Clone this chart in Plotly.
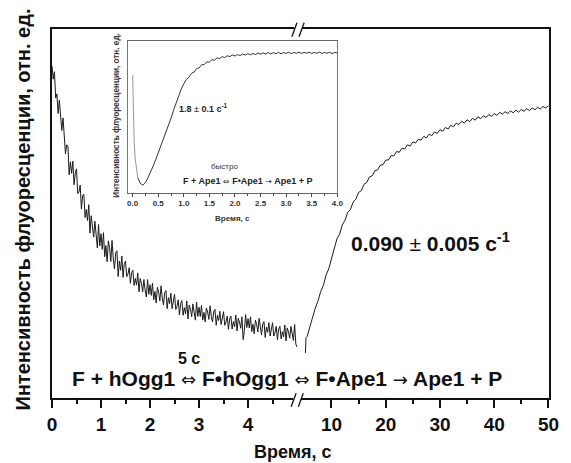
import plotly.graph_objects as go

# --- main trace, first 5 s (left part of the broken axis) ---
t_fast = [0.000, 0.025, 0.050, 0.075, 0.100, 0.125, 0.150, 0.175, 0.200, 0.225,
          0.250, 0.275, 0.300, 0.325, 0.350, 0.375, 0.400, 0.425, 0.450, 0.475,
          0.500, 0.525, 0.550, 0.575, 0.600, 0.625, 0.650, 0.675, 0.700, 0.725,
          0.750, 0.775, 0.800, 0.825, 0.850, 0.875, 0.900, 0.925, 0.950, 0.975,
          1.000, 1.025, 1.050, 1.075, 1.100, 1.125, 1.150, 1.175, 1.200, 1.225,
          1.250, 1.275, 1.300, 1.325, 1.350, 1.375, 1.400, 1.425, 1.450, 1.475,
          1.500, 1.525, 1.550, 1.575, 1.600, 1.625, 1.650, 1.675, 1.700, 1.725,
          1.750, 1.775, 1.800, 1.825, 1.850, 1.875, 1.900, 1.925, 1.950, 1.975,
          2.000, 2.025, 2.050, 2.075, 2.100, 2.125, 2.150, 2.175, 2.200, 2.225,
          2.250, 2.275, 2.300, 2.325, 2.350, 2.375, 2.400, 2.425, 2.450, 2.475,
          2.500, 2.525, 2.550, 2.575, 2.600, 2.625, 2.650, 2.675, 2.700, 2.725,
          2.750, 2.775, 2.800, 2.825, 2.850, 2.875, 2.900, 2.925, 2.950, 2.975,
          3.000, 3.025, 3.050, 3.075, 3.100, 3.125, 3.150, 3.175, 3.200, 3.225,
          3.250, 3.275, 3.300, 3.325, 3.350, 3.375, 3.400, 3.425, 3.450, 3.475,
          3.500, 3.525, 3.550, 3.575, 3.600, 3.625, 3.650, 3.675, 3.700, 3.725,
          3.750, 3.775, 3.800, 3.825, 3.850, 3.875, 3.900, 3.925, 3.950, 3.975,
          4.000, 4.025, 4.050, 4.075, 4.100, 4.125, 4.150, 4.175, 4.200, 4.225,
          4.250, 4.275, 4.300, 4.325, 4.350, 4.375, 4.400, 4.425, 4.450, 4.475,
          4.500, 4.525, 4.550, 4.575, 4.600, 4.625, 4.650, 4.675, 4.700, 4.725,
          4.750, 4.775, 4.800, 4.825, 4.850, 4.875, 4.900, 4.925, 4.950, 4.975,
          5.000]
fl_fast = [90.0, 86.4, 88.4, 81.3, 82.4, 77.1, 80.7, 77.4, 72.5, 75.9,
           70.1, 66.2, 68.6, 68.3, 60.5, 64.0, 60.9, 64.2, 57.8, 60.9,
           62.1, 55.4, 55.8, 57.7, 51.2, 54.9, 55.2, 48.9, 51.1, 48.1,
           52.4, 44.7, 49.4, 47.1, 43.6, 47.9, 43.3, 40.7, 47.0, 41.2,
           44.5, 40.3, 44.8, 38.3, 41.3, 36.9, 42.6, 40.7, 37.0, 42.7,
           37.7, 35.0, 39.4, 39.9, 32.9, 37.1, 34.6, 38.5, 32.7, 36.4,
           37.1, 32.9, 33.6, 35.3, 31.1, 34.0, 34.6, 30.5, 32.4, 30.6,
           33.9, 28.8, 32.4, 31.1, 28.8, 32.1, 29.2, 27.4, 32.1, 28.1,
           30.7, 27.8, 31.1, 26.6, 28.9, 25.8, 30.0, 28.7, 26.3, 30.4,
           27.1, 25.2, 28.6, 29.1, 24.2, 27.2, 25.6, 28.4, 24.2, 26.9,
           28.1, 24.0, 24.8, 26.6, 22.5, 25.6, 26.4, 22.4, 24.5, 22.8,
           26.3, 21.4, 25.2, 24.1, 22.0, 25.5, 22.7, 21.1, 26.0, 22.1,
           24.6, 22.1, 25.1, 21.1, 23.2, 20.6, 24.4, 23.3, 21.3, 25.0,
           22.1, 20.6, 23.5, 24.0, 19.7, 22.4, 21.0, 23.5, 19.9, 22.3,
           23.4, 19.7, 20.6, 22.2, 18.6, 21.4, 22.2, 18.7, 20.7, 19.3,
           22.5, 18.2, 21.6, 20.6, 18.9, 22.0, 15.8, 18.3, 22.6, 19.1,
           21.5, 19.0, 22.0, 18.0, 20.0, 17.4, 21.1, 20.0, 17.9, 21.6,
           18.6, 17.1, 20.1, 20.7, 16.4, 19.2, 17.8, 20.4, 16.8, 19.3,
           20.4, 16.8, 17.7, 19.4, 15.8, 18.7, 19.4, 16.0, 18.0, 16.6,
           19.8, 15.5, 19.0, 17.9, 16.2, 19.4, 16.9, 15.6, 19.9, 14.6,
           13.8]

# --- main trace after the break (5-50 s) ---
t_slow = [5.2, 5.3, 5.5, 6.0, 6.5, 7.0, 7.5, 8.0, 8.5, 9.0, 9.5,
          10.0, 10.5, 11.0, 11.5, 12.0, 12.5, 13.0, 13.5, 14.0, 14.5,
          15.0, 15.5, 16.0, 16.5, 17.0, 17.5, 18.0, 18.5, 19.0, 19.5,
          20.0, 20.5, 21.0, 21.5, 22.0, 22.5, 23.0, 23.5, 24.0, 24.5,
          25.0, 25.5, 26.0, 26.5, 27.0, 27.5, 28.0, 28.5, 29.0, 29.5,
          30.0, 30.5, 31.0, 31.5, 32.0, 32.5, 33.0, 33.5, 34.0, 34.5,
          35.0, 35.5, 36.0, 36.5, 37.0, 37.5, 38.0, 38.5, 39.0, 39.5,
          40.0, 40.5, 41.0, 41.5, 42.0, 42.5, 43.0, 43.5, 44.0, 44.5,
          45.0, 45.5, 46.0, 46.5, 47.0, 47.5, 48.0, 48.5, 49.0, 49.5, 50.0]
fl_slow = [12.2, 16.3, 16.6, 19.3, 21.4, 24.3, 26.2, 28.8, 30.5, 33.3, 35.0,
           37.9, 40.0, 43.1, 44.4, 46.9, 48.2, 50.3, 51.1, 53.1, 53.9,
           55.7, 56.2, 57.9, 58.4, 59.9, 60.2, 61.6, 61.8, 63.1, 63.2,
           64.5, 64.5, 65.7, 65.6, 66.8, 66.6, 67.7, 67.5, 68.6, 68.3,
           69.4, 69.1, 70.1, 69.9, 70.9, 70.5, 71.5, 71.1, 72.1, 71.7,
           72.7, 72.3, 73.3, 72.9, 73.9, 73.5, 74.5, 74.1, 75.0, 74.5,
           75.4, 74.9, 75.8, 75.3, 76.2, 75.7, 76.5, 76.0, 76.8, 76.3,
           77.1, 76.6, 77.4, 76.9, 77.6, 77.1, 77.8, 77.3, 78.0, 77.5,
           78.2, 77.7, 78.4, 77.9, 78.6, 78.1, 78.8, 78.3, 79.0, 78.6, 79.2]

# --- inset: F + Ape1 ---
t_ins_mix = [0.00, 0.01, 0.02, 0.03, 0.05, 0.08, 0.10]
fl_ins_mix = [77.6, 62.0, 45.0, 33.0, 22.5, 14.0, 10.0]
t_ins = [0.10, 0.15, 0.20, 0.25, 0.30, 0.35, 0.40, 0.45, 0.50, 0.55,
         0.60, 0.65, 0.70, 0.75, 0.80, 0.85, 0.90, 0.95, 1.00, 1.05,
         1.10, 1.15, 1.20, 1.25, 1.30, 1.35, 1.40, 1.45, 1.50, 1.55,
         1.60, 1.65, 1.70, 1.75, 1.80, 1.85, 1.90, 1.95, 2.00, 2.05,
         2.10, 2.15, 2.20, 2.25, 2.30, 2.35, 2.40, 2.45, 2.50, 2.55,
         2.60, 2.65, 2.70, 2.75, 2.80, 2.85, 2.90, 2.95, 3.00, 3.05,
         3.10, 3.15, 3.20, 3.25, 3.30, 3.35, 3.40, 3.45, 3.50, 3.55,
         3.60, 3.65, 3.70, 3.75, 3.80, 3.85, 3.90, 3.95, 4.00]
fl_ins = [10.0, 6.2, 5.0, 6.8, 10.0, 13.5, 17.6, 21.8, 26.3, 30.2,
          34.4, 39.0, 44.0, 49.2, 54.5, 59.5, 64.3, 68.5, 71.9, 74.9,
          76.2, 78.8, 79.6, 81.9, 82.4, 84.5, 84.6, 86.4, 86.2, 87.8,
          87.5, 89.0, 88.5, 89.8, 89.2, 90.4, 89.8, 90.9, 90.2, 91.2,
          90.5, 91.5, 90.8, 91.8, 91.0, 91.9, 91.2, 92.2, 91.4, 92.3,
          91.5, 92.5, 91.6, 92.4, 91.8, 92.6, 91.7, 92.5, 91.9, 92.7,
          91.8, 92.6, 92.0, 92.8, 91.9, 92.6, 92.1, 92.7, 91.9, 92.6,
          92.0, 92.8, 91.9, 92.5, 92.1, 92.7, 91.8, 92.6, 92.2]

FONT = "Liberation Sans, Arial, sans-serif"
ax_col = "#111"

fig = go.Figure()
fig.add_trace(go.Scatter(x=t_fast, y=fl_fast, mode="lines", xaxis="x", yaxis="y",
                         line=dict(color="#1a1a1a", width=1), showlegend=False))
fig.add_trace(go.Scatter(x=t_slow, y=fl_slow, mode="lines", xaxis="x2", yaxis="y2",
                         line=dict(color="#1a1a1a", width=1), showlegend=False))
fig.add_trace(go.Scatter(x=t_ins_mix, y=fl_ins_mix, mode="lines", xaxis="x3", yaxis="y3",
                         line=dict(color="#999", width=1), showlegend=False))
fig.add_trace(go.Scatter(x=t_ins, y=fl_ins, mode="lines", xaxis="x3", yaxis="y3",
                         line=dict(color="#333", width=1), showlegend=False))

tickfont = dict(family=FONT, size=19, color="#111", weight="bold")
# the page body has an 8px margin, so the figure is 8px smaller than the window
fig.update_layout(
    width=563, height=455,
    margin=dict(l=44, r=12, t=21, b=65),
    paper_bgcolor="white", plot_bgcolor="white",
    xaxis=dict(domain=[0, 0.499], range=[0, 5.06], anchor="y",
               tickvals=[0, 1, 2, 3, 4], ticks="outside", ticklen=8, tickwidth=1.5,
               tickcolor=ax_col, minor=dict(tickvals=[0.5, 1.5, 2.5, 3.5, 4.5],
                                            ticks="outside", ticklen=4, tickcolor=ax_col),
               showline=True, linecolor=ax_col, linewidth=1.5, mirror=True,
               showgrid=False, zeroline=False, tickfont=tickfont),
    xaxis2=dict(domain=[0.499, 1], range=[4.2, 50.1], anchor="y2",
                tickvals=[10, 20, 30, 40, 50], ticks="outside", ticklen=8, tickwidth=1.5,
                tickcolor=ax_col, minor=dict(tickvals=[15, 25, 35, 45],
                                             ticks="outside", ticklen=4, tickcolor=ax_col),
                showline=True, linecolor=ax_col, linewidth=1.5, mirror=True,
                showgrid=False, zeroline=False, tickfont=tickfont),
    yaxis=dict(domain=[0, 1], range=[0, 100], anchor="x", showline=True,
               linecolor=ax_col, linewidth=1.5, showticklabels=False, ticks="",
               showgrid=False, zeroline=False),
    yaxis2=dict(domain=[0, 1], range=[0, 100], anchor="x2", side="right", showline=True,
                linecolor=ax_col, linewidth=1.5, showticklabels=False, ticks="",
                showgrid=False, zeroline=False),
    xaxis3=dict(domain=[0.152, 0.574], range=[-0.1, 4.0], anchor="y3",
                tickvals=[0, 0.5, 1, 1.5, 2, 2.5, 3, 3.5, 4],
                ticktext=["0.0", "0.5", "1.0", "1.5", "2.0", "2.5", "3.0", "3.5", "4.0"],
                ticks="outside", ticklen=3, tickcolor="#444",
                minor=dict(dtick=0.25, ticks="outside", ticklen=2, tickcolor="#444"),
                showline=True, linecolor="#666", linewidth=1, mirror=True,
                showgrid=False, zeroline=False,
                tickfont=dict(family=FONT, size=8, color="#333", weight="bold")),
    yaxis3=dict(domain=[0.556, 0.967], range=[0, 100], anchor="x3",
                showline=True, linecolor="#777", linewidth=1, mirror=True,
                showticklabels=False, ticks="", showgrid=False, zeroline=False),
)


# pixel positions measured on the reference -> paper fractions of the plot area
def px(x):
    return (x - 52) / 507


def py(y):
    return (398 - y) / 369


# broken-axis marks
shapes = [
    dict(type="line", xref="paper", yref="paper", x0=px(299), x1=px(307), y0=1, y1=1,
         line=dict(color="white", width=4)),
    dict(type="line", xref="paper", yref="paper", x0=px(298), x1=px(306), y0=0, y1=0,
         line=dict(color="white", width=4)),
]
for x0 in (296.7, 304.0):
    shapes.append(dict(type="line", xref="paper", yref="paper",
                       x0=px(x0), y0=py(36.7), x1=px(x0 + 5.2), y1=py(22.7),
                       line=dict(color=ax_col, width=1.3)))
for x0 in (296.0, 303.3):
    shapes.append(dict(type="line", xref="paper", yref="paper",
                       x0=px(x0), y0=py(406.7), x1=px(x0 + 5.0), y1=py(393.3),
                       line=dict(color=ax_col, width=1.3)))
fig.update_layout(shapes=shapes)

big_arr = "<span style='font-family:DejaVu Sans;font-weight:normal;font-size:18px'>%s</span>"
small_arr = "<span style='font-family:DejaVu Sans;font-weight:normal;font-size:8px'>%s</span>"
pm = "<span style='font-weight:normal'>±</span>"
ann = [
    dict(x=px(22), y=py(210), text="Интенсивность флуоресценции, отн. ед.", textangle=-90,
         font=dict(size=20, weight="bold")),
    dict(x=px(298), y=py(452), text="Время, с", font=dict(size=18, weight="bold")),
    dict(x=px(438), y=py(242), text="0.090 " + pm + " 0.005 с<sup>-1</sup>",
         font=dict(size=21, weight="bold")),
    dict(x=px(192), y=py(358), text="5 с", font=dict(size=16, weight="bold")),
    dict(x=px(292), y=py(378),
         text="F + hOgg1 " + big_arr % "⇔" + " F•hOgg1 " + big_arr % "⇔"
              + " F•Ape1 " + big_arr % "→" + " Ape1 + P",
         font=dict(size=21, weight="bold")),
    dict(x=px(117), y=py(115), text="Интенсивность флуоресценции, отн. ед.", textangle=-90,
         font=dict(size=8.2, weight="bold", color="#333")),
    dict(x=px(236), y=py(218), text="Время, с", font=dict(size=8, weight="bold", color="#333")),
    dict(x=px(207), y=py(108), text="1.8 " + pm + " 0.1 с<sup>-1</sup>",
         font=dict(size=9, weight="bold", color="#222")),
    dict(x=px(228), y=py(166), text="быстро", font=dict(size=8, color="#333")),
    dict(x=px(251), y=py(181),
         text="F + Ape1 " + small_arr % "⇔" + " F•Ape1 " + small_arr % "→" + " Ape1 + P",
         font=dict(size=9, weight="bold", color="#222")),
]
for a in ann:
    a.update(xref="paper", yref="paper", showarrow=False, xanchor="center", yanchor="middle")
    a["font"].setdefault("color", "#111")
    a["font"]["family"] = FONT
fig.update_layout(annotations=ann)

fig.write_html("out.html")
